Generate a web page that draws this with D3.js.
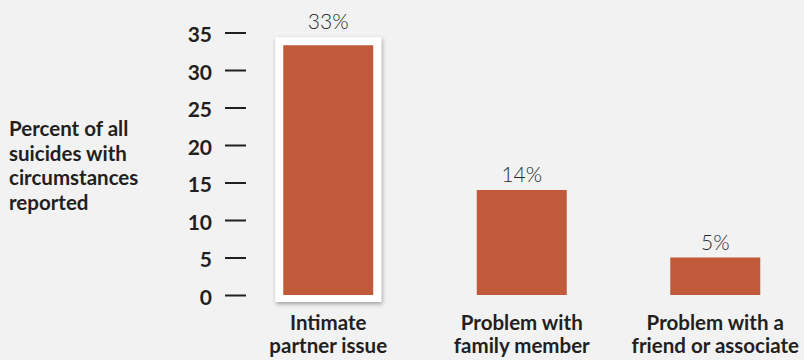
<!DOCTYPE html>
<html>
<head>
<meta charset="utf-8">
<script src="https://cdn.jsdelivr.net/npm/d3@7"></script>
<style>
  html, body { margin: 0; padding: 0; background: #f2f2f2; }
  svg { display: block; }
  text { font-family: Lato, "Open Sans", sans-serif; fill: #231f20; }
</style>
</head>
<body>
<svg id="chart" width="804" height="360"></svg>
<script>
const categories = [["Intimate", "partner issue"], ["Problem with", "family member"], ["Problem with a", "friend or associate"]];
const values = [33.3, 14, 5];
const valueLabels = ["33%", "14%", "5%"];
const highlighted = [true, false, false];
const yTicks = [0, 5, 10, 15, 20, 25, 30, 35];
const yTitle = ["Percent of all", "suicides with", "circumstances", "reported"];

const svg = d3.select("#chart");
const W = 804, H = 360;
svg.append("rect").attr("width", W).attr("height", H).attr("fill", "#f2f2f2");

const defs = svg.append("defs");
const f = defs.append("filter").attr("id", "shadow").attr("x", "-20%").attr("y", "-20%").attr("width", "140%").attr("height", "140%");
f.append("feDropShadow").attr("dx", 1).attr("dy", 2).attr("stdDeviation", 2.2).attr("flood-color", "#000").attr("flood-opacity", 0.35);

const y = d3.scaleLinear().domain([0, 35]).range([295, 32.5]);
const x = d3.scaleBand().domain(d3.range(categories.length)).range([231, 812.5]).paddingInner(0.535).paddingOuter(0.27);

// Y axis
const axis = d3.axisLeft(y).tickValues(yTicks).tickSize(21).tickPadding(13);
const gAxis = svg.append("g").attr("transform", "translate(246,0)").call(axis);
gAxis.select(".domain").remove();
gAxis.selectAll(".tick line").attr("stroke", "#231f20").attr("stroke-width", 2);
gAxis.selectAll(".tick text").attr("fill", "#231f20").style("font-size", "21px").style("font-weight", "bold")
  .style("font-family", "Lato, sans-serif").attr("dy", "0.45em");

// Y title
const tt = svg.append("text").attr("x", 9).attr("y", 136).style("font-size", "20.5px").style("font-weight", "bold");
yTitle.forEach((l, i) => tt.append("tspan").attr("x", 9).attr("y", 136 + i * 24.5).text(l));

// Bars
const pad = 8;
const g = svg.append("g");
values.forEach((v, i) => {
  if (highlighted[i]) {
    g.append("rect")
      .attr("x", x(i) - pad).attr("y", y(v) - pad)
      .attr("width", x.bandwidth() + 2 * pad).attr("height", y(0) - y(v) + 2 * pad - 1)
      .attr("fill", "#ffffff").attr("filter", "url(#shadow)");
  }
  g.append("rect")
    .attr("x", x(i)).attr("y", y(v))
    .attr("width", x.bandwidth()).attr("height", y(0) - y(v))
    .attr("fill", "#c05a3b");
  g.append("text")
    .attr("x", x(i) + x.bandwidth() / 2)
    .attr("y", y(v) - (highlighted[i] ? 16 : 8))
    .attr("text-anchor", "middle")
    .style("font-size", "21px").style("font-weight", "300").style("fill", "#2a2a2a")
    .text(valueLabels[i]);
  const lt = g.append("text").attr("text-anchor", "middle").style("font-size", "20.5px").style("font-weight", "bold");
  categories[i].forEach((l, j) => lt.append("tspan")
    .attr("x", x(i) + x.bandwidth() / 2).attr("y", 330 + j * 23).text(l));
});
</script>
</body>
</html>
